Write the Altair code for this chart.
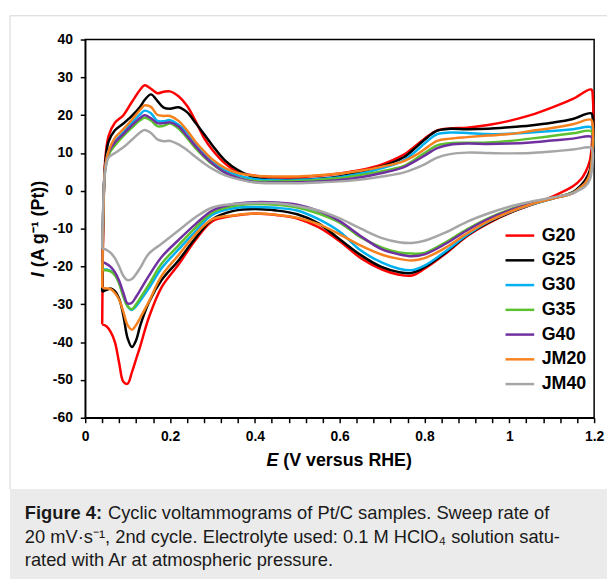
import altair as alt
import pandas as pd

SERIES = ["G20", "G25", "G30", "G35", "G40", "JM20", "JM40"]
COLORS = ["#ff0000", "#000000", "#00b0f0", "#5cc12e", "#7030a0", "#f6821f", "#a6a6a6"]

# anodic (upper) sweep potentials, V
E_UP = [0.040, 0.043, 0.047, 0.055, 0.07, 0.09, 0.11, 0.13, 0.14, 0.155, 0.17, 0.185, 0.20,
        0.22, 0.24, 0.26, 0.28, 0.30, 0.33, 0.36, 0.40, 0.45, 0.50, 0.55, 0.60, 0.65, 0.70,
        0.75, 0.78, 0.80, 0.83, 0.86, 0.90, 0.95, 1.00, 1.05, 1.10, 1.15, 1.193]
# cathodic (lower) sweep potentials, V
E_DN = [1.197, 1.195, 1.19, 1.18, 1.17, 1.15, 1.10, 1.05, 1.00, 0.95, 0.90, 0.85, 0.80, 0.77,
        0.74, 0.70, 0.65, 0.60, 0.55, 0.50, 0.45, 0.40, 0.35, 0.30, 0.26, 0.22, 0.18, 0.15,
        0.13, 0.12, 0.11, 0.10, 0.09, 0.08, 0.07, 0.06, 0.05, 0.04]

G20_UP = [-35.3, -5, 8, 14.5, 18, 20, 23.5, 26.8, 27.9, 27, 25.8, 26.2, 26.3, 25, 22.5, 18.5, 14, 10.8, 7.2, 5,
          4, 3.6, 3.6, 4, 4.6, 5.5, 7, 9.5, 12, 13.8, 16, 16.5, 16.7, 17.4, 18.5, 20, 22, 24.3, 26.8]
G25_UP = [-26.7, -5, 7, 13, 16, 17.8, 19.8, 22.3, 24, 25.5, 23.8, 22, 21.7, 22.1, 20.8, 18, 15, 12, 8, 5.5,
          3.5, 2.9, 2.9, 3.2, 3.8, 5, 6.5, 8.8, 11.5, 13.5, 15.9, 16.4, 16.3, 16.4, 16.8, 17.3, 18, 19, 20.5]
G30_UP = [-20.7, -3, 6, 10.5, 13, 15.5, 18, 20.3, 21.2, 20.5, 18.5, 18.4, 18.7, 17.5, 15.5, 12.5, 10, 7.8, 5.4, 4.1,
          3.1, 2.8, 2.8, 3.1, 3.6, 4.6, 6, 8, 10.5, 12.5, 15, 15.4, 15.3, 15, 15.1, 15.4, 15.8, 16.3, 16.8]
G35_UP = [-21, -3, 5.5, 9.5, 12, 14.5, 16.7, 18.7, 19.3, 18.6, 17.1, 17.2, 17.8, 16.5, 14, 11.3, 9, 7, 4.8, 3.5,
          2.6, 2.5, 2.6, 2.9, 3.3, 4.2, 5.2, 6.5, 8.5, 10, 12, 12.6, 12.7, 12.8, 13.2, 13.8, 14.5, 15.2, 15.8]
G40_UP = [-18.8, -3, 6, 10.2, 12.8, 15, 17.3, 19.3, 20, 19.2, 17.9, 17.9, 18.1, 17, 14.5, 11.8, 9.3, 7.2, 4.8, 3.4,
          2.3, 2.2, 2.3, 2.5, 2.9, 3.6, 4.7, 6.2, 8, 9.3, 11.3, 12.2, 12.5, 12.4, 12.5, 12.8, 13.3, 13.8, 14.3]
JM20_UP = [-25.6, -5, 6, 10.5, 14, 16.3, 18.8, 21.5, 22.6, 22.2, 20.1, 19.8, 19.8, 18.5, 16, 13, 10.5, 8.3, 6, 4.7,
           4, 3.8, 3.8, 4.1, 4.6, 5.3, 6.4, 7.8, 9.5, 11, 13.2, 13.8, 14.2, 14.6, 15, 15.8, 16.6, 17.6, 18.8]
JM40_UP = [-15.2, -2, 5, 8.8, 10, 11.5, 13.5, 15.5, 16.1, 15.3, 13.6, 13.1, 13.2, 12.3, 10.8, 9, 7.3, 5.8, 4.1, 3.1,
           2.2, 2, 2, 2.2, 2.5, 3, 3.8, 4.8, 6, 7, 8.8, 9.7, 10.1, 10, 9.9, 10, 10.4, 10.9, 11.4]

G20_DN = [24.5, 13, 8, 5, 3.2, 1.2, -1.6, -3.8, -5.9, -8.6, -12, -16.6, -20.6, -22.4, -22.2, -20.8, -17.8, -13.3, -9.6,
          -7.3, -6.4, -6, -6.6, -8, -13, -19.5, -25.5, -33.5, -41, -44.5, -48, -51, -50.5, -45.5, -40, -37.3, -35.8, -35.3]
G25_DN = [18.5, 10, 5.5, 3, 1.6, -0.3, -2.1, -3.7, -5.8, -8.4, -11.8, -16.3, -20.2, -21.7, -21.5, -20.2, -17, -12.8, -8.6,
          -6.2, -5.2, -4.8, -5.3, -7.5, -12.5, -18.4, -23.6, -29.5, -35.5, -39.5, -41.3, -39, -33, -28.5, -26.5, -25.8, -26.2, -26.7]
G30_DN = [15, 8, 4, 2, 1, -0.6, -2.1, -3.7, -5.7, -8.2, -11.7, -16, -19.8, -21, -20.6, -19, -15.8, -10.8, -7.5,
          -5.2, -4.5, -4.3, -4.6, -6.3, -10.7, -15.5, -20.5, -25.8, -29, -30.5, -31.5, -30.5, -27.8, -24.3, -22.2, -21.2, -20.8, -20.7]
G35_DN = [14, 8, 4, 2, 1, -0.5, -1.9, -3.3, -5, -7.3, -10.2, -13.6, -16.4, -16.6, -16.3, -15, -12.3, -8.4, -6,
          -4.4, -3.7, -3.5, -4, -5.7, -9.7, -14.4, -19.3, -24.8, -28.3, -30, -31.3, -30.5, -28, -24.5, -22.3, -21.3, -21, -21]
G40_DN = [12.5, 8, 4, 2, 1, -0.6, -2, -3.4, -5.2, -7.5, -10.5, -14, -16.8, -17.3, -16.8, -15.5, -12, -8, -5.3,
          -3.7, -3.1, -3, -3.5, -5.2, -8.8, -13, -17.5, -22.5, -26.2, -28, -29.6, -29.8, -27, -23.8, -21.5, -20.1, -19.3, -18.8]
JM20_DN = [17, 9, 4.5, 2.2, 1.1, -0.6, -2.1, -3.6, -5.6, -8.1, -11.3, -15, -17.8, -18.4, -18, -16.9, -14.5, -11.5, -8.8,
           -7.1, -6.3, -6, -6.5, -7.5, -11.5, -17, -22.5, -29.3, -33.5, -35.5, -36.7, -35.5, -32, -28.8, -27, -26, -25.8, -25.6]
JM40_DN = [10, 6, 3, 1.3, 0.5, -0.6, -1.8, -2.9, -4.2, -6, -8.2, -11, -13.2, -13.8, -13.6, -12.5, -10, -7.3, -5.2,
           -4, -3.3, -3.2, -3.5, -4.4, -7, -10.5, -14, -16.6, -20.3, -22, -23.3, -23.6, -22.5, -20, -17.8, -16.4, -15.6, -15.2]

UP = [G20_UP, G25_UP, G30_UP, G35_UP, G40_UP, JM20_UP, JM40_UP]
DN = [G20_DN, G25_DN, G30_DN, G35_DN, G40_DN, JM20_DN, JM40_DN]

X_TICKS = [0, 0.04, 0.08, 0.12, 0.16, 0.2, 0.24, 0.28, 0.32, 0.36, 0.4, 0.44, 0.48, 0.52, 0.56, 0.6,
           0.64, 0.68, 0.72, 0.76, 0.8, 0.84, 0.88, 0.92, 0.96, 1.0, 1.04, 1.08, 1.12, 1.16, 1.2]
Y_TICKS = [-60, -50, -40, -30, -20, -10, 0, 10, 20, 30, 40]

CAPTION_BOLD = "Figure 4:"
CAPTION_LINES = [
    "Cyclic voltammograms of Pt/C samples. Sweep rate of",
    "20 mV\u00b7s\u207b\u00b9, 2nd cycle. Electrolyte used: 0.1 M HClO\u2084 solution satu-",
    "rated with Ar at atmospheric pressure.",
]

rows = []
for name, up, dn in zip(SERIES, UP, DN):
    assert len(up) == len(E_UP) and len(dn) == len(E_DN), name
    k = 0
    for e, v in zip(E_UP + E_DN, up + dn):
        rows.append({"series": name, "E": e, "I": v, "idx": k})
        k += 1
df = pd.DataFrame(rows)

FONT = "Liberation Sans"
W, H = 514, 382

x_enc = alt.X("E:Q", scale=alt.Scale(domain=[0, 1.2], nice=False, zero=False),
              axis=alt.Axis(values=X_TICKS, title=None, grid=False, tickSize=5, labelFlush=False,
                            labelOverlap=False, labelPadding=7,
                            labelExpr="(abs(datum.value * 5 - round(datum.value * 5)) < 0.001) ? format(datum.value, '~g') : ''"))
y_enc = alt.Y("I:Q", scale=alt.Scale(domain=[-60, 40], nice=False, zero=False),
              axis=alt.Axis(values=Y_TICKS, title=None, grid=False, tickSize=5, labelPadding=8,
                            labelExpr="datum.value < 0 ? '-' + format(-datum.value, 'd') : format(datum.value, 'd')"))

lines = alt.Chart(df).mark_line(strokeWidth=2.5, interpolate="catmull-rom").encode(
    x=x_enc, y=y_enc,
    color=alt.Color("series:N", scale=alt.Scale(domain=SERIES, range=COLORS),
                    legend=alt.Legend(title=None, orient="none", legendX=423, legendY=182,
                                      direction="vertical", symbolType="stroke", symbolSize=841,
                                      symbolStrokeWidth=2.5, labelFont=FONT, labelFontSize=18,
                                      labelFontWeight="bold", labelColor="black", labelOffset=6,
                                      rowPadding=0, padding=0, labelLimit=200)),
    order="idx:Q",
)

one = pd.DataFrame({"a": [0]})

bg = alt.Chart(one).mark_rect(color="#ebebeb").encode(
    x=alt.value(-76), x2=alt.value(W + 40), y=alt.value(454), y2=alt.value(560))
border_left = alt.Chart(one).mark_rule(color="#d6d6d6", strokeWidth=1).encode(
    x=alt.value(-76), y=alt.value(-24), y2=alt.value(454))
border_top = alt.Chart(one).mark_rule(color="#d6d6d6", strokeWidth=1).encode(
    x=alt.value(-76), x2=alt.value(W + 40), y=alt.value(-24))


def text_layer(s, x, y, size=18, weight="bold", style="normal", angle=0, color="black"):
    return alt.Chart(pd.DataFrame({"t": [s]})).mark_text(
        font=FONT, fontSize=size, fontWeight=weight, fontStyle=style, align="left",
        baseline="alphabetic", angle=angle, color=color).encode(
        x=alt.value(x), y=alt.value(y), text="t:N")


xt1 = text_layer("E", 183, 431, style="italic")
xt2 = text_layer("(V versus RHE)", 200, 431)
yt1 = text_layer("I", -42, 240, style="italic", angle=270)
yt2 = text_layer("(A g\u207b\u00b9 (Pt))", -42, 230, angle=270)

cap0 = text_layer(CAPTION_BOLD, -61, 484, size=18.5, color="#1a1a1a")
cap1 = text_layer(CAPTION_LINES[0], 23, 484, size=18.5, weight="normal", color="#1a1a1a")
cap2 = text_layer(CAPTION_LINES[1], -61, 508, size=18.5, weight="normal", color="#1a1a1a")
cap3 = text_layer(CAPTION_LINES[2], -61, 532, size=18.5, weight="normal", color="#1a1a1a")

chart = alt.layer(bg, border_left, border_top, lines, xt1, xt2, yt1, yt2, cap0, cap1, cap2, cap3).properties(
    width=W, height=H,
    padding={"left": 78, "top": 29, "right": 13, "bottom": 160},
    autosize=alt.AutoSizeParams(type="none"),
    background="white",
).configure_view(stroke="black", strokeWidth=1.5).configure_axis(
    domainColor="black", domainWidth=1.5, tickColor="black", tickWidth=1.5,
    labelColor="black", labelFont=FONT, labelFontWeight="bold", labelFontSize=14,
)

chart.save("out.html", embed_options={"renderer": "svg", "actions": False})
